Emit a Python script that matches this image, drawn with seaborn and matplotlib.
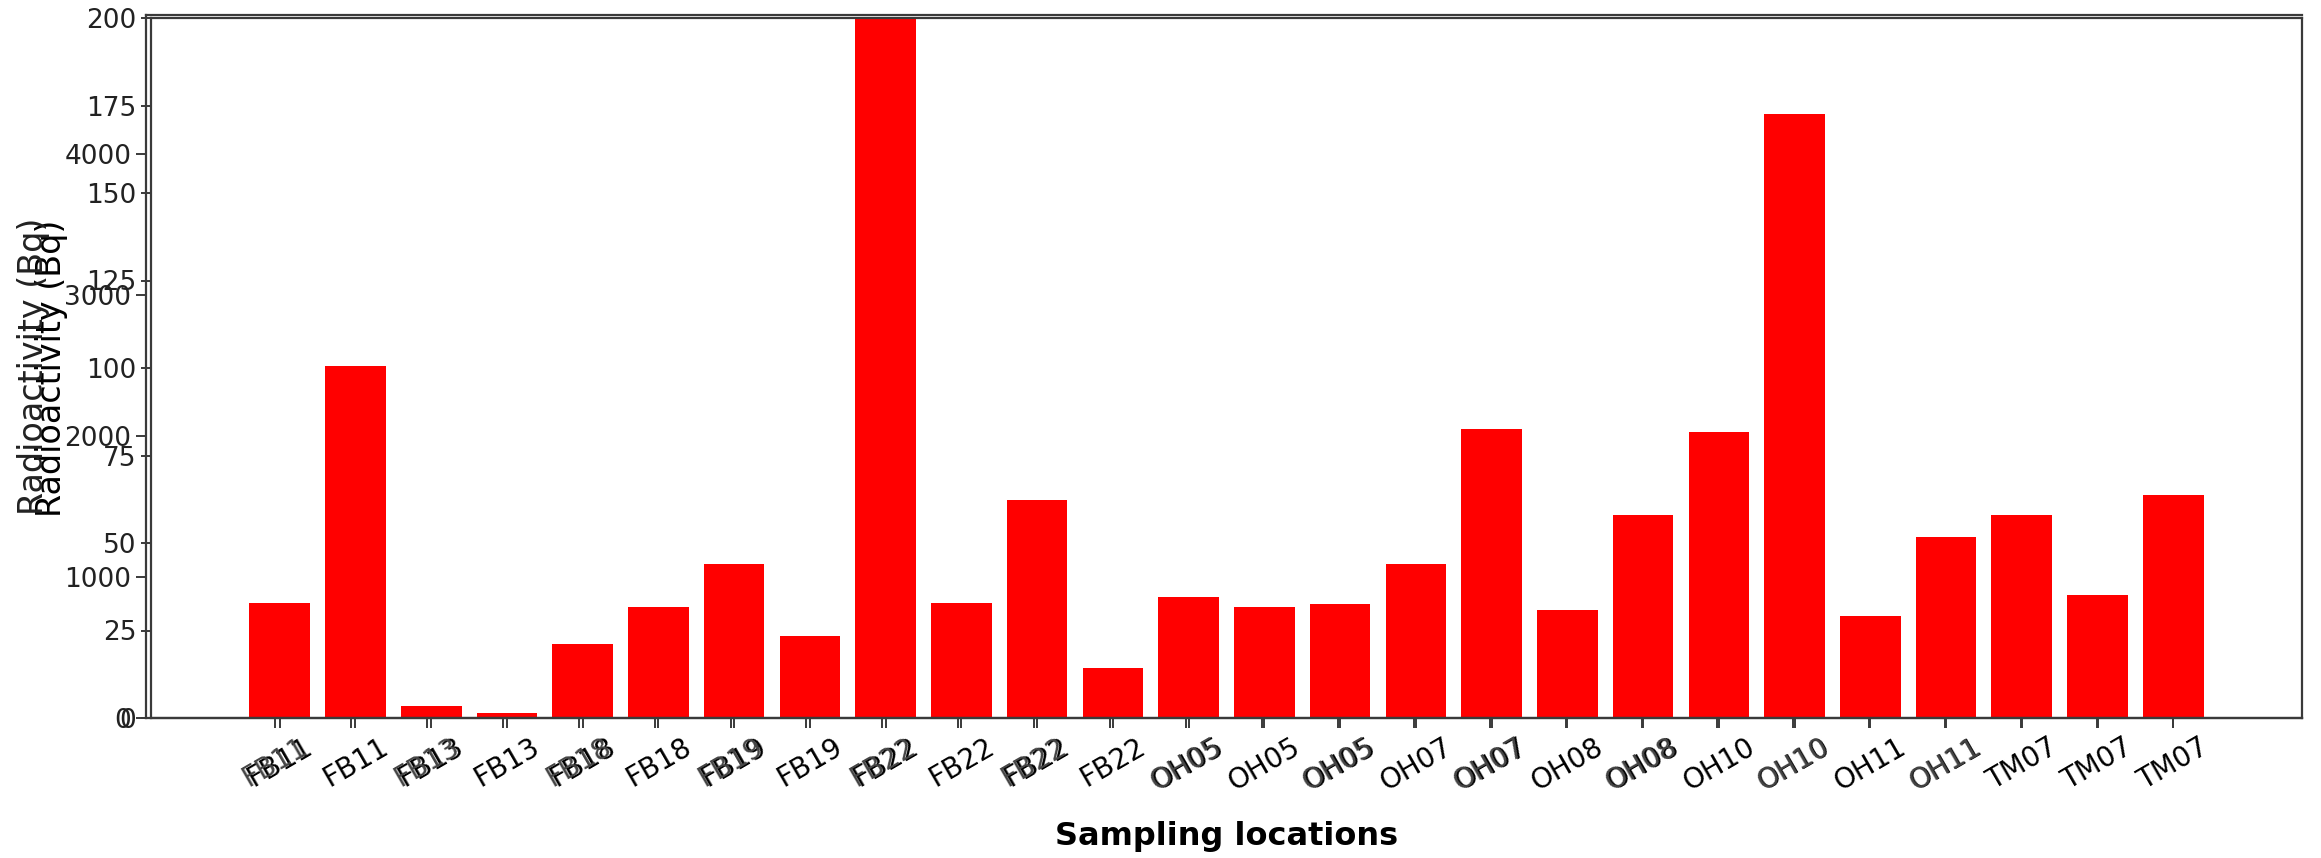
import numpy as np
import matplotlib
matplotlib.use("Agg")
import matplotlib.pyplot as plt
import seaborn as sns

# ---- data ----
locations = ["FB11", "FB11", "FB13", "FB13", "FB18", "FB18", "FB19", "FB19",
             "FB22", "FB22", "FB22", "FB22", "OH05", "OH05", "OH05", "OH07",
             "OH07", "OH08", "OH08", "OH10", "OH10", "OH11", "OH11", "TM07",
             "TM07", "TM07"]
activity = [33.0, 100.6, 3.4, 1.3, 21.1, 31.7, 44.0, 23.3,
            200.0, 33.0, 62.2, 14.4, 34.7, 31.7, 32.6, 44.0,
            82.5, 30.9, 57.9, 81.6, 172.5, 29.2, 51.6, 57.9,
            35.1, 63.8]
left_ticks = [0, 25, 50, 75, 100, 125, 150, 175, 200]
bq_ticks = [0, 1000, 2000, 3000, 4000]

sns.set_style("white")
plt.rcParams['font.family'] = ['DejaVu Sans']
plt.rcParams['text.color'] = 'black'
plt.rcParams['axes.labelcolor'] = 'black'
plt.rcParams['xtick.color'] = 'black'
plt.rcParams['ytick.color'] = 'black'

W, H = 2321, 858
fig = plt.figure(figsize=(W / 100, H / 100), dpi=100)

L, R, T, B = 151, 2302, 18, 718
ax1 = fig.add_axes([L / W, 1 - B / H, (R - L) / W, (B - T) / H])
dx, dt = 5, 3
ax2 = fig.add_axes([(L - dx) / W, 1 - B / H, (R - L + dx) / W, (B - T + dt) / H])
ax2.patch.set_alpha(0)

pos = np.arange(len(locations))
sns.barplot(x=pos, y=activity, ax=ax1, color="red", saturation=1,
            errorbar=None, width=0.8, linewidth=0, native_scale=True)

ytick_font = dict(family=['DejaVu Sans Condensed', 'DejaVu Sans'], size=19)

xlim = (-1.7, 26.7)
for ax in (ax1, ax2):
    ax.set_xlim(*xlim)
    for s in ax.spines.values():
        s.set_color("#3a3a3a")
        s.set_linewidth(1.6)
    ax.tick_params(axis="both", which="major", length=7, width=1.4,
                   color="#3a3a3a", bottom=True, left=True)

ax1.set_ylim(0, 200)
ax1.set_yticks(left_ticks)
ax1.set_yticklabels([str(t) for t in left_ticks], fontdict=ytick_font, color="#222222")
ax1.set_xticks(pos)
ax1.set_xticklabels(locations, rotation=30, fontsize=20)
ax1.set_xlabel("Sampling locations", fontsize=23, fontweight="bold", labelpad=18)
ax1.set_ylabel("Radioactivity (Bq)", fontsize=24)
ax1.yaxis.set_label_coords(-0.0386, 0.5)

ax2.set_ylim(0, 4985)
ax2.set_yticks(bq_ticks)
ax2.set_yticklabels([str(t) for t in bq_ticks], fontdict=ytick_font, color="#222222")
ax2.set_xticks(pos)
ax2.set_xticklabels([lab if i % 2 == 0 and i < 23 else "" for i, lab in enumerate(locations)],
                    rotation=30, fontsize=20, color="#444444")
ax2.set_ylabel("Radioactivity (Bq)", fontsize=24, color="#222222")
ax2.yaxis.set_label_coords(-0.0445, 0.5)
ax2.spines["right"].set_visible(False)

fig.savefig("out.png", dpi=100)
